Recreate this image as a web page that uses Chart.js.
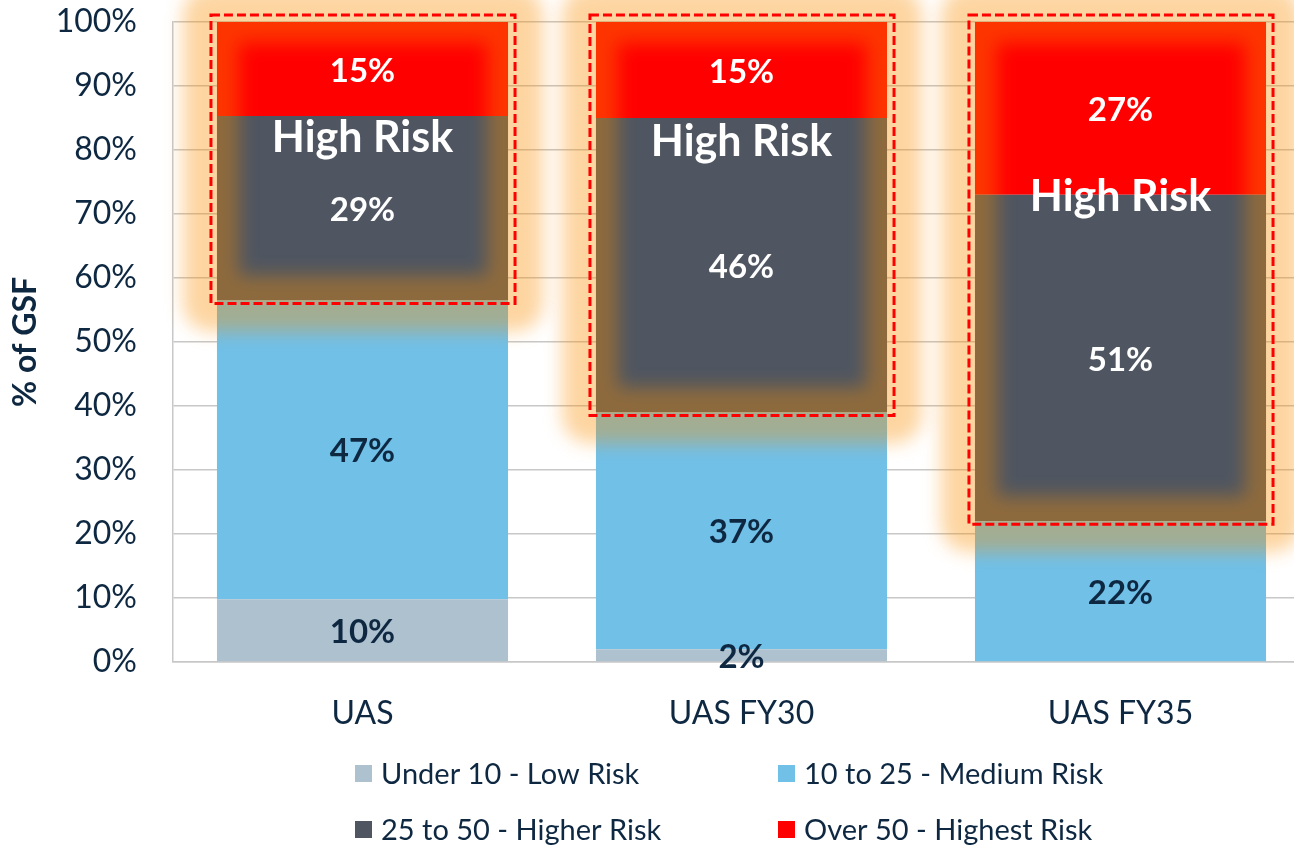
<!DOCTYPE html>
<html>
<head>
<meta charset="utf-8">
<script src="https://cdn.jsdelivr.net/npm/chart.js@4/dist/chart.umd.min.js"></script>
<style>
  html, body { margin: 0; padding: 0; background: #ffffff; overflow: hidden; }
  #wrap { width: 1312px; height: 846px; }
</style>
</head>
<body>
<div id="wrap"><canvas id="c" width="1312" height="846"></canvas></div>
<script>
// ---- data ----
const categories = ['UAS', 'UAS FY30', 'UAS FY35'];
const seriesNames = ['Under 10 - Low Risk', '10 to 25 - Medium Risk', '25 to 50 - Higher Risk', 'Over 50 - Highest Risk'];
const lowRisk = [9.8, 2, 0];
const mediumRisk = [46.7, 37, 22];
const higherRisk = [28.8, 46, 51];
const highestRisk = [14.7, 15, 27];
const highRiskText = 'High Risk';
const highRiskLabelAt = [81.9, 81.2, 72.7];   // annotation anchor (value units)
const yTickStep = 10;
const yMax = 100;

const NAVY = '#0e2842';
const colors = ['#adc1cf', '#71c0e8', '#4f5661', '#ff0000'];
const labelColors = [NAVY, NAVY, '#ffffff', '#ffffff'];
const FONT = 'Lato, "Open Sans", sans-serif';

const seriesValues = [lowRisk, mediumRisk, higherRisk, highestRisk];

const glowPlugin = {
  id: 'glowBoxes',
  afterDatasetsDraw(chart) {
    const ctx = chart.ctx;
    const mTop = chart.getDatasetMeta(3);
    const mHi = chart.getDatasetMeta(2);
    const boxes = categories.map((c, i) => {
      const t = mTop.data[i], h = mHi.data[i];
      const half = t.width / 2;
      return { x1: t.x - half - 6, x2: t.x + half + 7, y1: t.y - 7, y2: h.base + 3 };
    });
    ctx.save();
    ctx.filter = 'blur(9px)';
    ctx.strokeStyle = 'rgba(250,140,0,0.37)';
    ctx.lineJoin = 'round';
    ctx.lineWidth = 56;
    boxes.forEach(b => ctx.strokeRect(b.x1, b.y1, b.x2 - b.x1, b.y2 - b.y1));
    ctx.restore();
    ctx.save();
    ctx.strokeStyle = '#ff0000';
    ctx.lineWidth = 3;
    ctx.setLineDash([9, 4]);
    boxes.forEach(b => ctx.strokeRect(b.x1, b.y1, b.x2 - b.x1, b.y2 - b.y1));
    ctx.restore();
  }
};

const labelPlugin = {
  id: 'segLabels',
  afterDraw(chart) {
    const ctx = chart.ctx;
    ctx.save();
    ctx.textAlign = 'center';
    ctx.textBaseline = 'middle';
    chart.data.datasets.forEach((ds, di) => {
      const meta = chart.getDatasetMeta(di);
      meta.data.forEach((bar, i) => {
        const v = ds.data[i];
        if (!v) return;
        ctx.font = 'bold 33px ' + FONT;
        ctx.fillStyle = labelColors[di];
        ctx.fillText(Math.round(v) + '%', bar.x, (bar.y + bar.base) / 2 + 2);
      });
    });
    // High Risk annotations
    const ys = chart.scales.y;
    const meta = chart.getDatasetMeta(2);
    ctx.font = 'bold 43px ' + FONT;
    ctx.fillStyle = '#ffffff';
    meta.data.forEach((bar, i) => {
      ctx.fillText(highRiskText, bar.x, ys.getPixelForValue(highRiskLabelAt[i]));
    });
    // legend (2 columns)
    const colX = [355, 778];
    const rowY = [774, 830];
    ctx.textAlign = 'left';
    ctx.font = '29px ' + FONT;
    chart.data.datasets.forEach((ds, di) => {
      const x = colX[di % 2], y = rowY[Math.floor(di / 2)];
      ctx.fillStyle = ds.backgroundColor;
      ctx.fillRect(x, y - 9, 17, 17);
      ctx.fillStyle = NAVY;
      ctx.fillText(ds.label, x + 26, y + 1);
    });
    ctx.restore();
  }
};

new Chart(document.getElementById('c'), {
  type: 'bar',
  data: {
    labels: categories,
    datasets: seriesNames.map((name, i) => ({
      label: name,
      data: seriesValues[i],
      backgroundColor: colors[i],
      borderWidth: 0,
      categoryPercentage: 1,
      barPercentage: 0.768
    }))
  },
  options: {
    responsive: false,
    animation: false,
    layout: { padding: { left: 6, right: 2, top: 22, bottom: 116 } },
    plugins: {
      legend: { display: false },
      tooltip: { enabled: false }
    },
    scales: {
      x: {
        stacked: true,
        grid: { display: false, drawTicks: false },
        border: { display: true, color: '#c8c8c8', width: 1.5 },
        ticks: { padding: 32, color: NAVY, font: { family: FONT, size: 32 } },
        afterFit: s => { s.height = 68; s.paddingLeft = 0; s.paddingRight = 0; }
      },
      y: {
        stacked: true,
        min: 0,
        max: yMax,
        ticks: {
          stepSize: yTickStep,
          padding: 36,
          color: NAVY,
          font: { family: FONT, size: 32 },
          callback: v => v + '%'
        },
        grid: { color: '#c8c8c8', lineWidth: 1.5, drawTicks: false },
        border: { display: true, color: '#c8c8c8', width: 1.5 },
        title: {
          display: true,
          text: '% of GSF',
          color: NAVY,
          font: { family: FONT, size: 32, weight: 'bold' },
          padding: { top: 0, bottom: 10 }
        },
        afterFit: s => { s.width = 167; s.paddingTop = 0; s.paddingBottom = 0; }
      }
    }
  },
  plugins: [glowPlugin, labelPlugin]
});
</script>
</body>
</html>
